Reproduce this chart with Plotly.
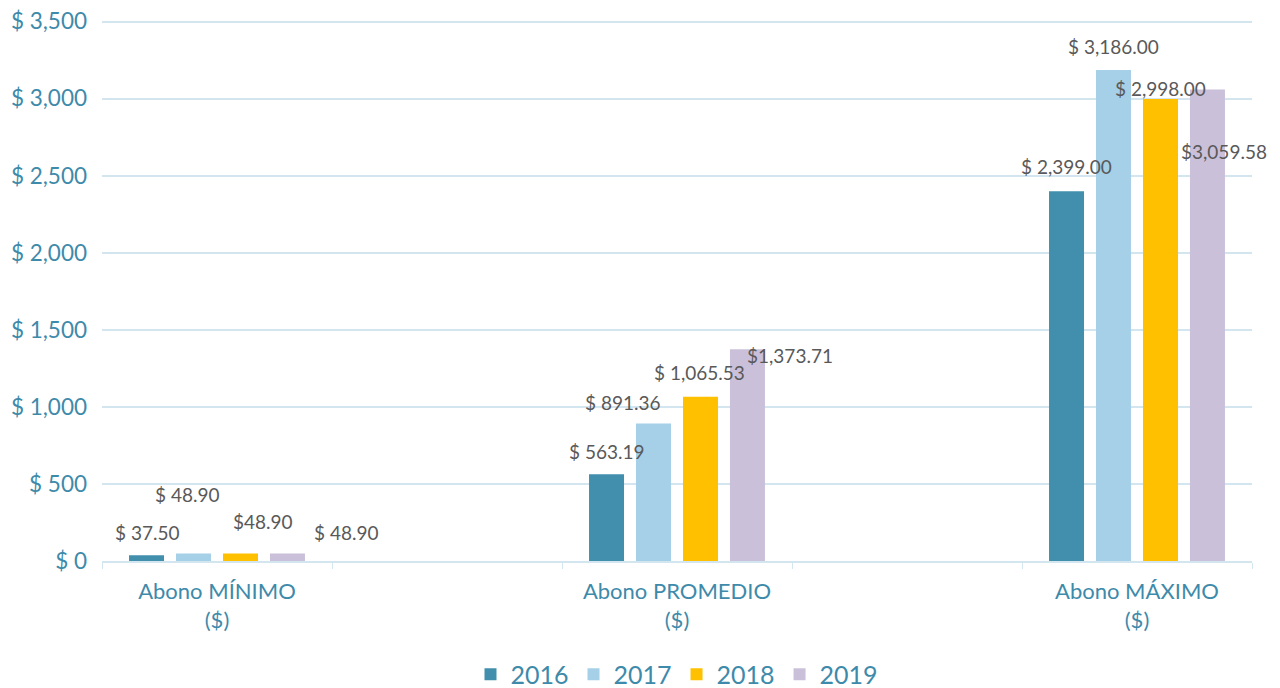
import plotly.graph_objects as go

categories = ["Abono MÍNIMO<br>($)", "Abono PROMEDIO<br>($)", "Abono MÁXIMO<br>($)"]
slots = ["Abono MÍNIMO<br>($)", " ", "Abono PROMEDIO<br>($)", "  ", "Abono MÁXIMO<br>($)"]
years = ["2016", "2017", "2018", "2019"]
values = {
    "2016": [37.50, 563.19, 2399.00],
    "2017": [48.90, 891.36, 3186.00],
    "2018": [48.90, 1065.53, 2998.00],
    "2019": [48.90, 1373.71, 3059.58],
}
labels = {
    "2016": ["$ 37.50", "$ 563.19", "$ 2,399.00"],
    "2017": ["$ 48.90", "$ 891.36", "$ 3,186.00"],
    "2018": ["$48.90", "$ 1,065.53", "$ 2,998.00"],
    "2019": ["$ 48.90", "$1,373.71", "$3,059.58"],
}
colors = {"2016": "#418FAD", "2017": "#A5D0E8", "2018": "#FFC000", "2019": "#CBC0DA"}
# label offsets in pixels (xshift, yshift) — mimic manual placement in original
offsets = {
    "2016": [(0, 23), (0, 23), (0, 25)],
    "2017": [(-7, 59), (-31, 21), (0, 23)],
    "2018": [(23, 32), (-1, 24), (0, 10)],
    "2019": [(59, 21), (43, -6), (17, -62)],
}

teal = "#3E8AAA"
grid = "#D3E5EF"
font_family = "Lato, 'Open Sans', sans-serif"
bargap = 0.183

fig = go.Figure()
for y in years:
    fig.add_trace(go.Bar(name=y, x=categories, y=values[y], marker_color=colors[y],
                         marker_line_width=0))

annotations = []
n = len(years)
for i, y in enumerate(years):
    for c, cat in enumerate(categories):
        idx = slots.index(cat)
        xc = idx + (i - (n - 1) / 2) * (1 - bargap) / n
        dx, dy = offsets[y][c]
        annotations.append(dict(x=xc, y=values[y][c], xref="x", yref="y",
                                text=labels[y][c], showarrow=False,
                                xanchor="center", yanchor="middle",
                                xshift=dx, yshift=dy,
                                font=dict(size=19, color="#595959", family=font_family)))

fig.update_layout(
    barmode="group", bargap=bargap, bargroupgap=0.255,
    width=1272, height=680,
    margin=dict(l=94, r=28, t=11.5, b=127, autoexpand=False),
    plot_bgcolor="white", paper_bgcolor="white",
    font=dict(family=font_family, color=teal),
    annotations=annotations,
    legend=dict(orientation="h", x=0.5, xanchor="center", y=-0.21, yanchor="middle",
                font=dict(size=25, color=teal), traceorder="normal",
                itemwidth=30),
    xaxis=dict(type="category", categoryorder="array", categoryarray=slots,
               range=[-0.5, len(slots) - 0.5],
               showline=True, linecolor=grid, linewidth=1.5,
               ticks="outside", tickson="boundaries", ticklen=6, tickcolor=grid,
               tickfont=dict(size=22, color=teal), showgrid=False,
               ticklabelstandoff=10),
    yaxis=dict(range=[0, 3510], tickmode="linear", tick0=0, dtick=500,
               tickprefix="$ ", tickformat=",",
               showgrid=True, gridcolor=grid, gridwidth=1.5, zeroline=False,
               tickfont=dict(size=22.5, color=teal), ticks="", ticklabelstandoff=14,
               ticklabeloverflow="allow"),
)

fig.write_html("out.html")
